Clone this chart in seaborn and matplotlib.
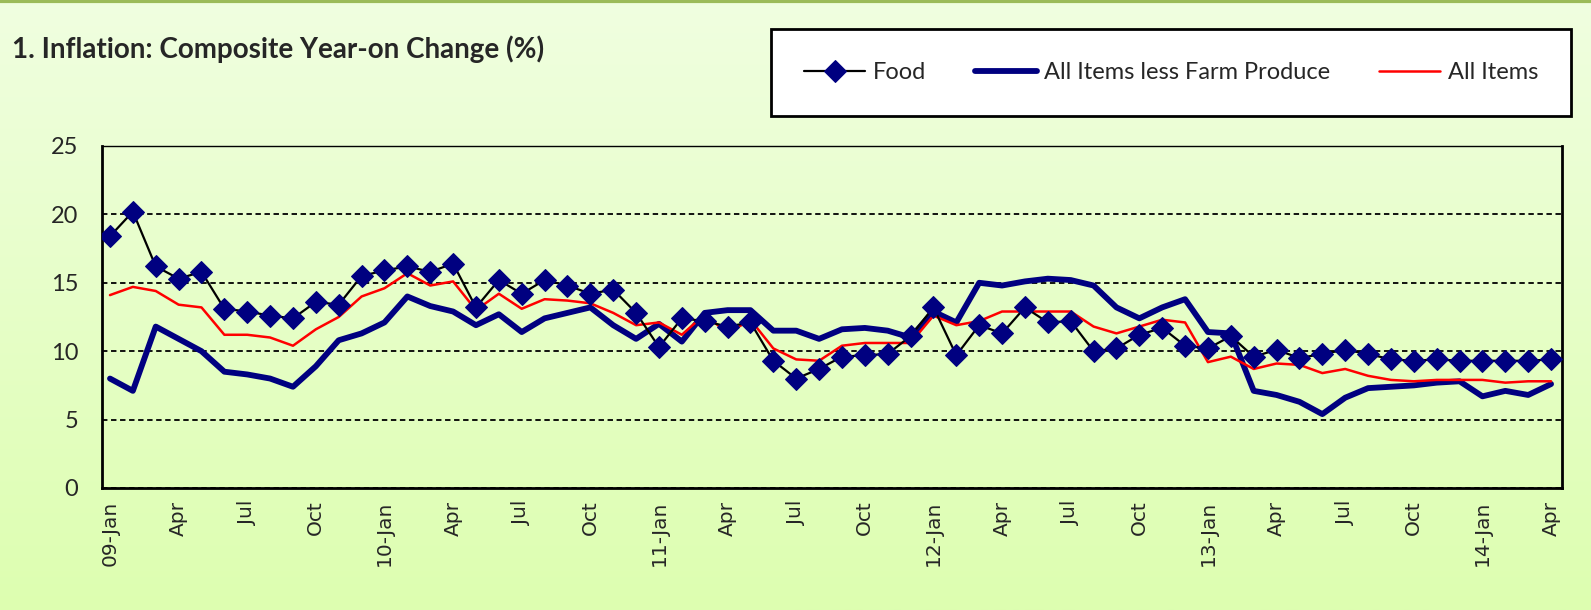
import numpy as np
import pandas as pd
import matplotlib
matplotlib.use('Agg')
import matplotlib.pyplot as plt
import seaborn as sns
from matplotlib.colors import LinearSegmentedColormap

# Monthly data, Jan 2009 - Apr 2014 (year-on change, %)
food = [18.4, 20.2, 16.2, 15.3, 15.8, 13.1, 12.9, 12.6, 12.4, 13.6, 13.4, 15.5,
        15.9, 16.2, 15.8, 16.4, 13.2, 15.2, 14.2, 15.2, 14.8, 14.2, 14.5, 12.8,
        10.3, 12.4, 12.2, 11.8, 12.1, 9.3, 8.0, 8.7, 9.6, 9.7, 9.8, 11.1,
        13.2, 9.7, 11.9, 11.3, 13.2, 12.1, 12.2, 10.0, 10.2, 11.2, 11.7, 10.4,
        10.2, 11.1, 9.6, 10.1, 9.5, 9.8, 10.1, 9.8, 9.4, 9.3, 9.4, 9.3,
        9.3, 9.3, 9.3, 9.4]
all_less_farm = [8.0, 7.1, 11.8, 10.9, 10.0, 8.5, 8.3, 8.0, 7.4, 8.9, 10.8, 11.3,
                 12.1, 14.0, 13.3, 12.9, 11.9, 12.7, 11.4, 12.4, 12.8, 13.2, 11.9, 10.9,
                 12.0, 10.7, 12.8, 13.0, 13.0, 11.5, 11.5, 10.9, 11.6, 11.7, 11.5, 11.0,
                 12.9, 12.1, 15.0, 14.8, 15.1, 15.3, 15.2, 14.8, 13.2, 12.4, 13.2, 13.8,
                 11.4, 11.3, 7.1, 6.8, 6.3, 5.4, 6.6, 7.3, 7.4, 7.5, 7.7, 7.8,
                 6.7, 7.1, 6.8, 7.6]
all_items = [14.1, 14.7, 14.4, 13.4, 13.2, 11.2, 11.2, 11.0, 10.4, 11.6, 12.5, 14.0,
             14.6, 15.7, 14.8, 15.1, 13.0, 14.2, 13.1, 13.8, 13.7, 13.5, 12.8, 11.9,
             12.1, 11.2, 12.7, 11.3, 12.3, 10.2, 9.4, 9.3, 10.4, 10.6, 10.6, 10.6,
             12.6, 11.9, 12.2, 12.9, 12.9, 12.9, 12.9, 11.8, 11.3, 11.8, 12.3, 12.1,
             9.2, 9.6, 8.7, 9.1, 9.0, 8.4, 8.7, 8.2, 7.9, 7.8, 7.9, 7.9,
             7.9, 7.7, 7.8, 7.8]
tick_labels = ['09-Jan', 'Apr', 'Jul', 'Oct', '10-Jan', 'Apr', 'Jul', 'Oct',
               '11-Jan', 'Apr', 'Jul', 'Oct', '12-Jan', 'Apr', 'Jul', 'Oct',
               '13-Jan', 'Apr', 'Jul', 'Oct', '14-Jan', 'Apr']

df = pd.DataFrame({'month': range(len(food)),
                   'Food': food,
                   'All Items less Farm Produce': all_less_farm,
                   'All Items': all_items})

sns.set_style('white')
plt.rcParams['font.family'] = ['Lato', 'DejaVu Sans']

fig = plt.figure(figsize=(15.91, 6.10), dpi=100)

# background gradient
bg = fig.add_axes([0, 0, 1, 1], zorder=-10)
grad = np.linspace(0, 1, 256).reshape(-1, 1)
cmap = LinearSegmentedColormap.from_list('bg', ['#DDFEB0', '#F0FFE0'])
bg.imshow(grad, aspect='auto', cmap=cmap, extent=[0, 1, 0, 1], origin='lower')
bg.plot([0, 1], [0.998, 0.998], color='#9BBB59', lw=3)
bg.set_xlim(0, 1)
bg.set_ylim(0, 1)
bg.axis('off')

ax = fig.add_axes([0.0641, 0.2, 0.9177, 0.5607])
ax.patch.set_alpha(0)

sns.lineplot(data=df, x='month', y='All Items less Farm Produce', ax=ax,
             color='#000080', lw=4.2, label='All Items less Farm Produce', zorder=2)
sns.lineplot(data=df, x='month', y='All Items', ax=ax,
             color='red', lw=1.8, label='All Items', zorder=3)
sns.lineplot(data=df, x='month', y='Food', ax=ax, color='black', lw=1.6,
             marker='D', markersize=11, markerfacecolor='#000080',
             markeredgecolor='#000080', label='Food', zorder=4)

ax.set_xlim(-0.35, 63.48)
ax.set_ylim(0, 25)
ax.set_yticks(range(0, 26, 5))
ax.set_xticks(range(0, 64, 3))
ax.set_xticklabels(tick_labels, rotation=90)
ax.tick_params(axis='y', labelsize=17, length=0, pad=17)
ax.tick_params(axis='x', length=0, pad=9, labelsize=14.5, labelfontfamily='DejaVu Sans')
ax.set_xlabel('')
ax.set_ylabel('')
ax.yaxis.grid(True, linestyle=(0, (3, 2)), color='black', lw=1.3)
for s in ax.spines.values():
    s.set_color('black')
    s.set_linewidth(2)
ax.spines['top'].set_linewidth(1)

handles, labels = ax.get_legend_handles_labels()
ax.get_legend().remove()
order = [2, 0, 1]
leg = fig.legend([handles[i] for i in order], [labels[i] for i in order],
                 loc='center', bbox_to_anchor=(0.4846, 0.8115, 0.5028, 0.139),
                 mode='expand', ncol=3, fontsize=17, frameon=True, fancybox=False,
                 edgecolor='black', framealpha=1, borderpad=1.4, borderaxespad=0,
                 handlelength=2.6, handletextpad=0.3)
leg.get_frame().set_linewidth(2)

fig.text(0.0075, 0.92, '1. Inflation: Composite Year-on Change (%)',
         fontsize=20, fontweight='bold', va='center', ha='left')

fig.savefig('out.png', dpi=100)
